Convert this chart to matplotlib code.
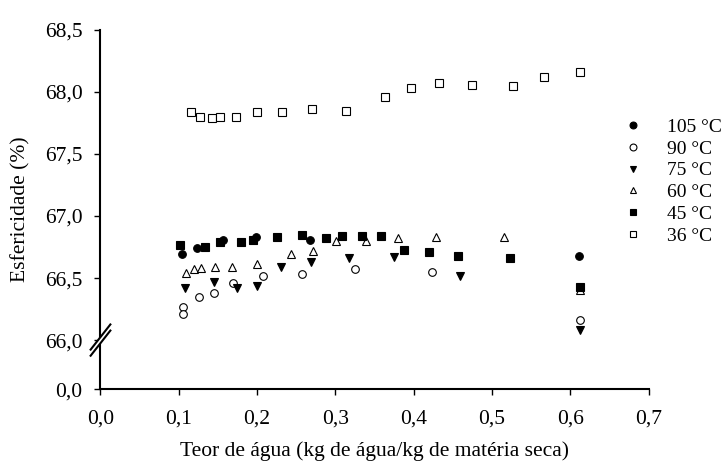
import matplotlib.pyplot as plt
from matplotlib.lines import Line2D
from matplotlib.patches import Polygon

plt.rcParams['font.family'] = ['Liberation Serif', 'DejaVu Serif']

# ---- dados ----
x_105 = [0.104, 0.123, 0.156, 0.198, 0.267, 0.611]
y_105 = [66.69, 66.74, 66.81, 66.83, 66.81, 66.68]

x_90 = [0.105, 0.105, 0.126, 0.145, 0.169, 0.207, 0.258, 0.325, 0.424, 0.612]
y_90 = [66.27, 66.21, 66.35, 66.38, 66.46, 66.52, 66.53, 66.57, 66.55, 66.16]

x_75 = [0.108, 0.145, 0.174, 0.200, 0.230, 0.269, 0.318, 0.375, 0.459, 0.612]
y_75 = [66.42, 66.47, 66.42, 66.44, 66.59, 66.63, 66.66, 66.67, 66.52, 66.08]

x_60 = [0.109, 0.119, 0.128, 0.146, 0.168, 0.200, 0.243, 0.271, 0.301, 0.339,
        0.380, 0.429, 0.516, 0.612]
y_60 = [66.54, 66.57, 66.58, 66.59, 66.59, 66.61, 66.69, 66.72, 66.80, 66.80,
        66.82, 66.83, 66.83, 66.40]

x_45 = [0.102, 0.134, 0.153, 0.180, 0.195, 0.225, 0.257, 0.288, 0.309, 0.334,
        0.358, 0.388, 0.419, 0.457, 0.523, 0.612]
y_45 = [66.77, 66.75, 66.79, 66.79, 66.81, 66.83, 66.85, 66.82, 66.84, 66.84,
        66.84, 66.73, 66.71, 66.68, 66.66, 66.43]

x_36 = [0.116, 0.127, 0.143, 0.153, 0.173, 0.200, 0.232, 0.270, 0.313, 0.364,
        0.397, 0.433, 0.474, 0.527, 0.567, 0.613]
y_36 = [67.84, 67.80, 67.79, 67.80, 67.80, 67.84, 67.84, 67.86, 67.85, 67.96,
        68.03, 68.07, 68.06, 68.05, 68.12, 68.16]

series = [
    ("105 °C", x_105, y_105, 'o', 'black'),
    ("90 °C", x_90, y_90, 'o', 'white'),
    ("75 °C", x_75, y_75, 'v', 'black'),
    ("60 °C", x_60, y_60, '^', 'white'),
    ("45 °C", x_45, y_45, 's', 'black'),
    ("36 °C", x_36, y_36, 's', 'white'),
]

y_ticks = [66.0, 66.5, 67.0, 67.5, 68.0, 68.5]
y_bottom = 65.605   # posição do "0,0" (eixo quebrado)

fig = plt.figure(figsize=(7.23, 4.61), dpi=100)
ax = fig.add_axes([0.139, 0.156, 0.758, 0.779])

for label, xs, ys, mk, fc in series:
    ax.plot(xs, ys, linestyle='none', marker=mk, markersize=5.5,
            markerfacecolor=fc, markeredgecolor='black', markeredgewidth=0.8,
            label=label)

ax.set_xlim(0, 0.7)
ax.set_ylim(y_bottom, 68.5)
ax.set_xticks([i / 10 for i in range(8)])
ax.set_xticklabels([f"{i / 10:.1f}".replace('.', ',') for i in range(8)])
ax.set_yticks([y_bottom] + y_ticks)
ax.set_yticklabels(["0,0"] + [f"{v:.1f}".replace('.', ',') for v in y_ticks])

for s in ['top', 'right']:
    ax.spines[s].set_visible(False)
for s in ['left', 'bottom']:
    ax.spines[s].set_linewidth(1.5)
ax.tick_params(direction='out', length=4, width=1, labelsize=15.5)
ax.tick_params(axis='x', pad=11)
ax.tick_params(axis='y', pad=9)

ax.set_xlabel("Teor de água (kg de água/kg de matéria seca)", fontsize=15.5, labelpad=9)
ax.set_ylabel("Esfericidade (%)", fontsize=15.5, labelpad=10)

# ---- marca de quebra do eixo ----
yb = (66.0 - y_bottom) / (68.5 - y_bottom)
dx, dy, gap = 0.018, 0.035, 0.017
gap_patch = Polygon([(-dx, yb - dy - gap / 2), (dx, yb + dy - gap / 2),
                     (dx, yb + dy + gap / 2), (-dx, yb - dy + gap / 2)],
                    closed=True, transform=ax.transAxes, facecolor='white',
                    edgecolor='none', clip_on=False, zorder=5)
ax.add_patch(gap_patch)
for off in (-gap / 2, gap / 2):
    ax.add_line(Line2D([-dx, dx], [yb - dy + off, yb + dy + off],
                       transform=ax.transAxes, color='black', linewidth=1.5,
                       clip_on=False, zorder=6))

ax.legend(loc='upper left', bbox_to_anchor=(623 / 723, 1 - 118 / 461),
          bbox_transform=fig.transFigure, frameon=False, fontsize=14,
          handlelength=1.0, handletextpad=1.25, labelspacing=0.22,
          borderpad=0, borderaxespad=0, markerscale=0.9)

fig.savefig("out.png", dpi=100)
